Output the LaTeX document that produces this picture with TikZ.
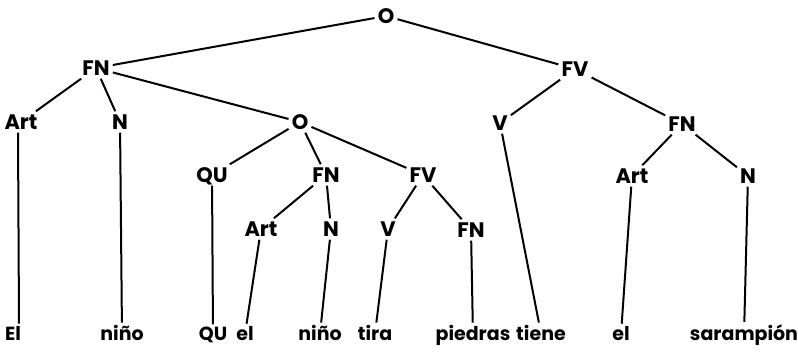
\documentclass[tikz,border=0pt]{standalone}
\usepackage{fontspec}
\setmainfont{Poppins}
\begin{document}
\begin{tikzpicture}[x=1pt,y=-1pt,
  cat/.style={font=\fontsize{21}{23}\selectfont\bfseries, inner sep=3pt, text height=15pt, text depth=0pt},
  leaf/.style={font=\fontsize{19}{21}\selectfont\bfseries, inner sep=3pt, anchor=base},
  edge/.style={line width=2pt}]
\useasboundingbox (0,0) rectangle (798,355);
% internal nodes
\node[cat] (O)   at (386,16) {O};
\node[cat] (FNa) at (96,68) {FN};
\node[cat] (FVa) at (575,69) {FV};
\node[cat] (Arta) at (21,122) {Art};
\node[cat] (Na)  at (120,122) {N};
\node[cat] (Ob)  at (300,122) {O};
\node[cat] (Vb)  at (500,123) {V};
\node[cat] (FNb) at (682,124) {FN};
\node[cat] (QU)  at (212,175) {QU};
\node[cat] (FNc) at (326,175) {FN};
\node[cat] (FVc) at (423,175) {FV};
\node[cat] (Artd) at (632,176) {Art};
\node[cat] (Nd)  at (748,176) {N};
\node[cat] (Arte) at (261,229) {Art};
\node[cat] (Ne)  at (331,229) {N};
\node[cat] (Ve)  at (388,229) {V};
\node[cat] (FNe) at (471,230) {FN};
% leaves
\node[leaf] (l1)  at (13,341) {El};
\node[leaf] (l2)  at (122,341) {niño};
\node[leaf] (l3)  at (213,341) {QU};
\node[leaf] (l4)  at (245,341) {el};
\node[leaf] (l5)  at (320,341) {niño};
\node[leaf] (l6)  at (375,341) {tira};
\node[leaf] (l7)  at (473,341) {piedras};
\node[leaf] (l8)  at (541,341) {tiene};
\node[leaf] (l9)  at (621,341) {el};
\node[leaf] (l10) at (744,341) {sarampión};
% tree edges
\draw[edge] (O) -- (FNa);
\draw[edge] (O) -- (FVa);
\draw[edge] (FNa) -- (Arta);
\draw[edge] (FNa) -- (Na);
\draw[edge] (FNa) -- (Ob);
\draw[edge] (FVa) -- (Vb);
\draw[edge] (FVa) -- (FNb);
\draw[edge] (Ob) -- (QU);
\draw[edge] (Ob) -- (FNc);
\draw[edge] (Ob) -- (FVc);
\draw[edge] (FNb) -- (Artd);
\draw[edge] (FNb) -- (Nd);
\draw[edge] (FNc) -- (Arte);
\draw[edge] (FNc) -- (Ne);
\draw[edge] (FVc) -- (Ve);
\draw[edge] (FVc) -- (FNe);
% leaf edges
\draw[edge] (Arta.south -| 18,0) -- (l1.north -| 19,0);
\draw[edge] (Na) -- (l2);
\draw[edge] (QU) -- (l3);
\draw[edge] (Arte) -- (l4);
\draw[edge] (Ne) -- (l5);
\draw[edge] (Ve) -- (l6);
\draw[edge] (FNe) -- (l7);
\draw[edge] (Vb) -- (l8);
\draw[edge] (Artd) -- (l9);
\draw[edge] (Nd) -- (l10);
\end{tikzpicture}
\end{document}
